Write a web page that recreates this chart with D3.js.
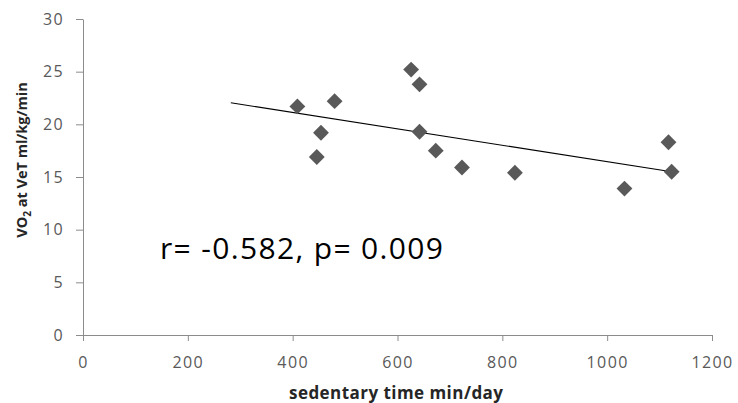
<!DOCTYPE html>
<html lang="en">
<head>
    <meta charset="UTF-8">
    <title>VO2 at VeT vs sedentary time</title>
    <script src="https://cdn.jsdelivr.net/npm/d3@7"></script>
    <style>
        body { margin: 0; background: #fff; }
        svg { display: block; font-family: "Open Sans", "Noto Sans", sans-serif; }
        .tick text { fill: #595959; font-size: 16px; letter-spacing: 1.4px; }
        .tick line, .domain { stroke: #8c8c8c; }
        .dot { fill: #595959; }
    </style>
</head>
<body>
    <svg width="738" height="403"></svg>
    <script>
        // sedentary time (min/day) and VO2 at VeT (ml/kg/min)
        const sedentary = [409, 446, 454, 480, 626, 642, 642, 673, 723, 824, 1033, 1117, 1123];
        const vo2 = [21.7, 16.9, 19.2, 22.2, 25.2, 23.8, 19.3, 17.5, 15.9, 15.4, 13.9, 18.3, 15.5];
        const trendX = [282, 1123];
        const trendY = [22.05, 15.5];
        const xTicks = [0, 200, 400, 600, 800, 1000, 1200];
        const yTicks = [0, 5, 10, 15, 20, 25, 30];

        const svg = d3.select("svg");
        const margin = {top: 19, right: 26, bottom: 68, left: 83};
        const width = 738 - margin.left - margin.right;
        const height = 403 - margin.top - margin.bottom;
        const g = svg.append("g").attr("transform", `translate(${margin.left},${margin.top})`);

        const x = d3.scaleLinear().domain([0, 1200]).range([0, width]);
        const y = d3.scaleLinear().domain([0, 30]).range([height, 0]);

        g.append("g")
            .attr("transform", `translate(0,${height})`)
            .call(d3.axisBottom(x).tickValues(xTicks).tickFormat(d3.format("d"))
                .tickSize(6).tickPadding(16).tickSizeOuter(0))
            .call(a => a.select(".domain").attr("d", `M0.5,0.5H${width}`));
        g.append("g")
            .call(d3.axisLeft(y).tickValues(yTicks).tickSize(7).tickPadding(12).tickSizeOuter(0));
        svg.selectAll("g").attr("font-family", null).attr("font-size", null);

        // trendline
        g.append("line")
            .attr("x1", x(trendX[0])).attr("y1", y(trendY[0]))
            .attr("x2", x(trendX[1])).attr("y2", y(trendY[1]))
            .attr("stroke", "#000").attr("stroke-width", 1.1);

        const pts = sedentary.map((s, i) => ({s, v: vo2[i]}));
        g.selectAll(".dot")
            .data(pts)
            .enter().append("path")
            .attr("class", "dot")
            .attr("d", d3.symbol().type(d3.symbolDiamond2).size(160))
            .attr("transform", d => `translate(${x(d.s)},${y(d.v)})`);

        svg.append("text")
            .attr("x", 160).attr("y", 259)
            .attr("font-size", 30)
            .attr("textLength", 283)
            .attr("fill", "#000")
            .text("r= -0.582, p= 0.009");

        svg.append("text")
            .attr("x", 289).attr("y", 399)
            .attr("font-size", 17).attr("font-weight", "bold")
            .attr("textLength", 214)
            .attr("fill", "#262626")
            .text("sedentary time min/day");

        const yl = svg.append("text")
            .attr("transform", "translate(27,160) rotate(-90)")
            .attr("text-anchor", "middle")
            .attr("font-size", 14.5).attr("font-weight", "bold")
            .attr("fill", "#262626");
        yl.append("tspan").text("VO");
        yl.append("tspan").attr("font-size", 10).attr("dy", 4).text("2");
        yl.append("tspan").attr("dy", -4).text(" at VeT ml/kg/min");
    </script>
</body>
</html>
